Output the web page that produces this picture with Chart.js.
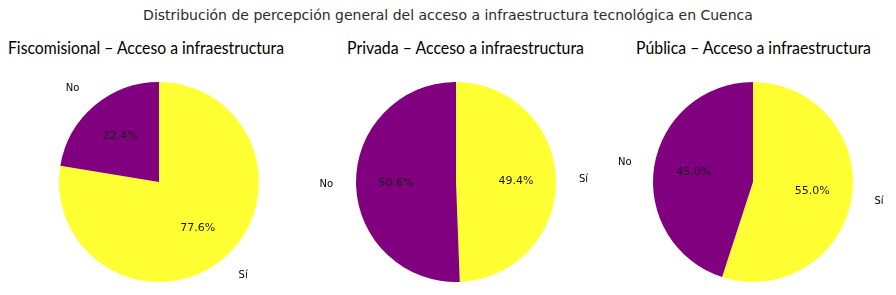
<!DOCTYPE html>
<html>
<head>
<meta charset="utf-8">
<script src="https://cdn.jsdelivr.net/npm/chart.js@4"></script>
<style>
  html, body { margin: 0; padding: 0; background: #fff; }
  body { width: 896px; height: 295px; position: relative; overflow: hidden; }
  #title {
    position: absolute; left: 0; top: 7px; width: 896px; text-align: center;
    font: 14px "DejaVu Sans", sans-serif; color: #2b2b2b; white-space: nowrap;
  }
  .sub {
    position: absolute; top: 37px; white-space: nowrap;
    font: 17px Lato, "Noto Sans", sans-serif; color: #000;
    transform-origin: 0 0;
  }
  .box { position: absolute; top: 72px; width: 300px; height: 220px; }
</style>
</head>
<body>
<div id="title">Distribución de percepción general del acceso a infraestructura tecnológica en Cuenca</div>
<div class="sub" id="s0" style="left:8px">Fiscomisional – Acceso a infraestructura</div>
<div class="sub" id="s1" style="left:347px">Privada – Acceso a infraestructura</div>
<div class="sub" id="s2" style="left:636px">Pública – Acceso a infraestructura</div>
<div class="box" style="left:9px"><canvas id="c0"></canvas></div>
<div class="box" style="left:306px"><canvas id="c1"></canvas></div>
<div class="box" style="left:603px"><canvas id="c2"></canvas></div>
<script>
const categories = ['Sí', 'No'];
const fiscomisionalValues = [77.6, 22.4];
const privadaValues = [49.4, 50.6];
const publicaValues = [55.0, 45.0];
const sliceColors = ['#ffff33', '#800080'];

// subtitle widths in the reference, used to squeeze the text to match
const subWidths = [276, 237, 235];
subWidths.forEach((w, i) => {
  const el = document.getElementById('s' + i);
  const real = el.getBoundingClientRect().width;
  el.style.transform = 'scaleX(' + (w / real) + ')';
});

// matplotlib-like labels: name outside, percent inside
const pieLabels = {
  id: 'pieLabels',
  afterDatasetsDraw(chart) {
    const c = chart.ctx;
    const data = chart.data.datasets[0].data;
    const total = data.reduce((a, b) => a + b, 0);
    chart.getDatasetMeta(0).data.forEach((arc, i) => {
      const mid = (arc.startAngle + arc.endAngle) / 2;
      const r = arc.outerRadius;
      const cos = Math.cos(mid), sin = Math.sin(mid);
      c.save();
      c.textBaseline = 'middle';
      c.font = '11px "DejaVu Sans", sans-serif';
      c.fillStyle = '#1a1a1a';
      c.textAlign = 'center';
      c.fillText((data[i] / total * 100).toFixed(1) + '%', arc.x + cos * r * 0.6, arc.y + sin * r * 0.6);
      c.font = '10px "DejaVu Sans", sans-serif';
      c.fillStyle = '#000';
      c.textAlign = cos > 0 ? 'left' : 'right';
      c.fillText(chart.data.labels[i], arc.x + cos * r * 1.23, arc.y + sin * r * 1.23);
      c.restore();
    });
  }
};

function makePie(id, values) {
  new Chart(document.getElementById(id), {
    type: 'pie',
    data: {
      labels: categories,
      datasets: [{ data: values, backgroundColor: sliceColors, borderWidth: 0 }]
    },
    options: {
      responsive: true,
      maintainAspectRatio: false,
      animation: false,
      rotation: 0,
      layout: { padding: { top: 10, bottom: 10, left: 50, right: 50 } },
      plugins: { legend: { display: false }, tooltip: { enabled: false } }
    },
    plugins: [pieLabels]
  });
}

makePie('c0', fiscomisionalValues);
makePie('c1', privadaValues);
makePie('c2', publicaValues);
</script>
</body>
</html>
